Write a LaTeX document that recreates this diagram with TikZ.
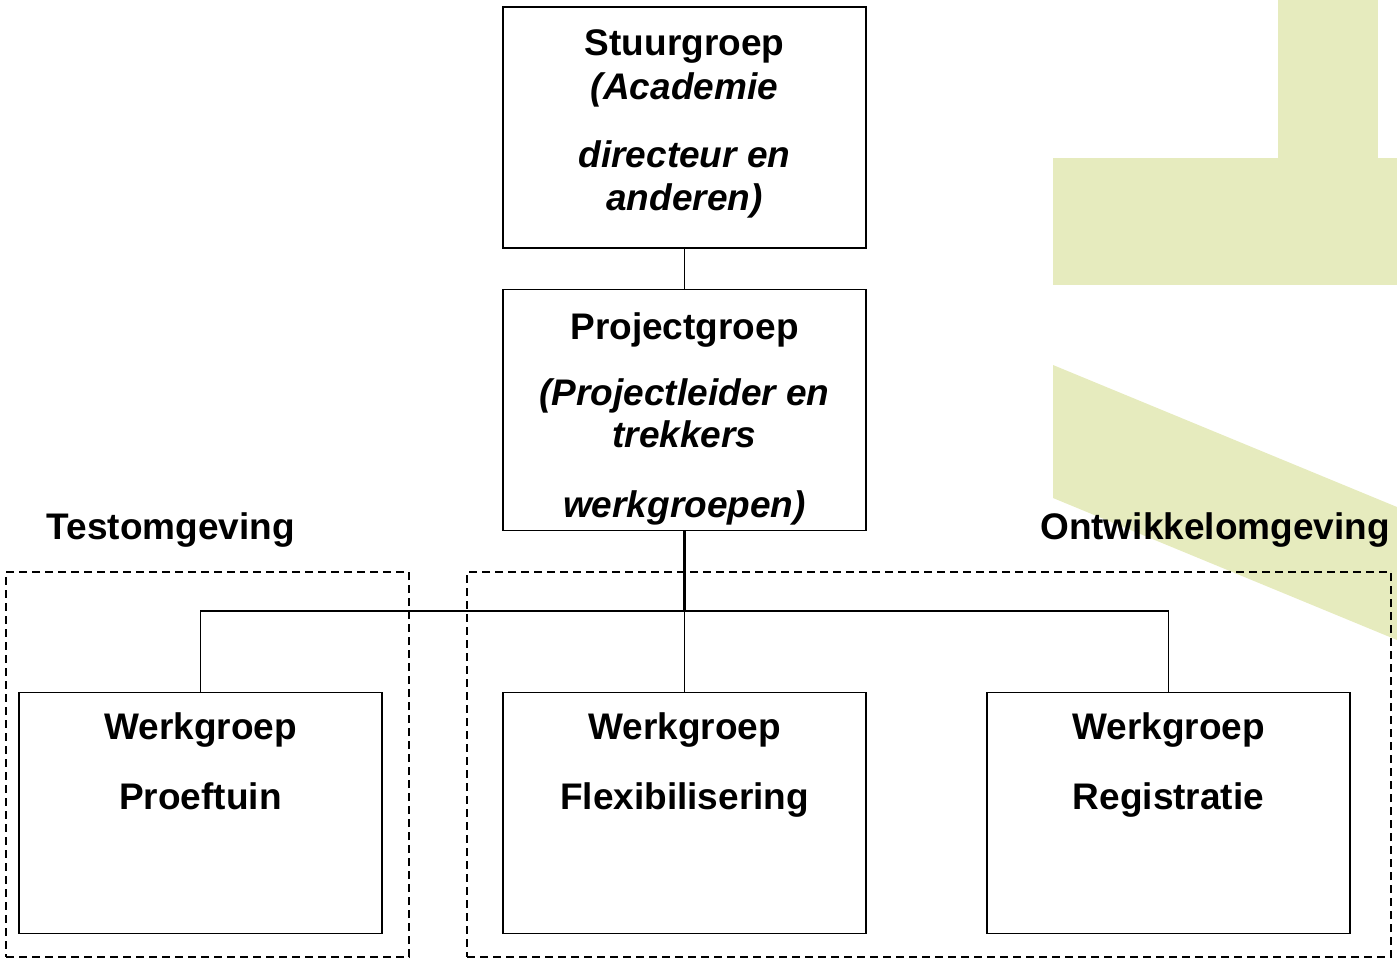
\documentclass[tikz,border=0pt]{standalone}
\usepackage{fontspec}
\setmainfont{Liberation Sans}
\usepackage{tikz}
\definecolor{leaf}{RGB}{230,235,190}

\begin{document}
\begin{tikzpicture}[x=1pt,y=-1pt,
    box/.style={draw,line width=1.8pt,minimum width=363pt,minimum height=241pt,inner sep=0pt},
    dashbox/.style={draw,line width=1.8pt,dash pattern=on 8pt off 5pt,inner sep=0pt},
    txt/.style={anchor=base,inner sep=0pt,font=\fontsize{37}{44}\selectfont\bfseries},
    itxt/.style={txt,font=\fontsize{37}{44}\selectfont\bfseries\itshape}]
  \useasboundingbox (0,0) rectangle (1397,962);
  % background shapes
  \fill[leaf] (1053,158) rectangle (1397,285);
  \fill[leaf] (1278,0) rectangle (1378,158);
  \fill[leaf] (1053,365) -- (1397,507) -- (1397,640) -- (1053,498) -- cycle;
  % environments
  \node[dashbox,minimum width=403pt,minimum height=385pt] (test) at (207.5,764.5) {};
  \node[dashbox,minimum width=924pt,minimum height=385pt] (ontw) at (929,764.5) {};
  \node[txt] (testlbl) at (171,539) {Testomgeving};
  \node[txt] (ontwlbl) at (1215,539) {Ontwikkelomgeving};
  % boxes
  \node[box] (stuur) at (684.5,127.5) {};
  \node[box] (proj) at (684.5,410) {};
  \node[box] (proef) at (200.5,813) {};
  \node[box] (flex) at (684.5,813) {};
  \node[box] (regi) at (1168.5,813) {};
  \node[txt] (stuur1) at (684.5,55) {Stuurgroep};
  \node[itxt] (stuur2) at (684.5,99) {(Academie};
  \node[itxt] (stuur3) at (684.5,167) {directeur en};
  \node[itxt] (stuur4) at (684.5,210) {anderen)};
  \node[txt] (proj1) at (684.5,339) {Projectgroep};
  \node[itxt] (proj2) at (684.5,405) {(Projectleider en};
  \node[itxt] (proj3) at (684.5,447) {trekkers};
  \node[itxt] (proj4) at (684.5,517) {werkgroepen)};
  \node[txt] (proef1) at (200.5,739) {Werkgroep};
  \node[txt] (proef2) at (200.5,809) {Proeftuin};
  \node[txt] (flex1) at (684.5,739) {Werkgroep};
  \node[txt] (flex2) at (684.5,809) {Flexibilisering};
  \node[txt] (regi1) at (1168.5,739) {Werkgroep};
  \node[txt] (regi2) at (1168.5,809) {Registratie};
  % connectors
  \coordinate (bus) at (684.5,611);
  \draw[line width=1.2pt] (stuur) -- (proj);
  \draw[line width=2.4pt] (proj.south) -- (bus);
  \draw[line width=1.8pt] (proef.north) |- (bus) -| (regi.north);
  \draw[line width=1.4pt] (bus) -- (flex.north);
\end{tikzpicture}
\end{document}
